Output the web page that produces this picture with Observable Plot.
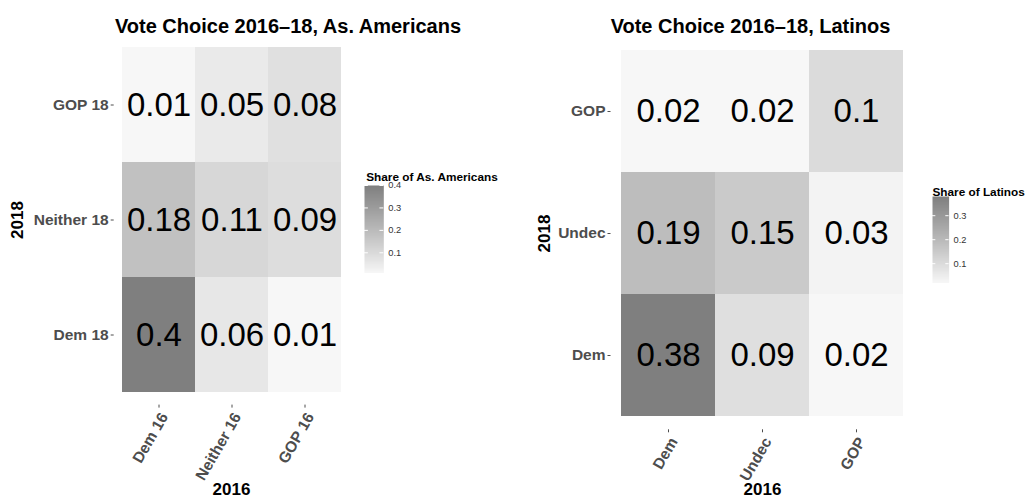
<!DOCTYPE html>
<html>
<head>
<meta charset="utf-8">
<script src="https://cdn.jsdelivr.net/npm/d3@7"></script>
<script src="https://cdn.jsdelivr.net/npm/@observablehq/plot@0.6"></script>
<style>
  body { margin: 0; background: #fff; }
  #chart { position: relative; width: 1025px; height: 503px; overflow: hidden; background: #fff; }
  #chart svg { position: absolute; }
</style>
</head>
<body>
<div id="chart"></div>
<script>
// Asian American respondents: 2018 vote (rows) by 2016 vote (columns)
const asCols16 = ["Dem 16", "Neither 16", "GOP 16"];
const asRows18 = ["GOP 18", "Neither 18", "Dem 18"];
const asGop18 = [0.01, 0.05, 0.08];
const asNeither18 = [0.18, 0.11, 0.09];
const asDem18 = [0.4, 0.06, 0.01];
const asLegendTicks = [0.1, 0.2, 0.3, 0.4];

// Latino respondents: 2018 vote (rows) by 2016 vote (columns)
const laCols16 = ["Dem", "Undec", "GOP"];
const laRows18 = ["GOP", "Undec", "Dem"];
const laGop18 = [0.02, 0.02, 0.1];
const laUndec18 = [0.19, 0.15, 0.03];
const laDem18 = [0.38, 0.09, 0.02];
const laLegendTicks = [0.1, 0.2, 0.3];

const FONT = "'Liberation Sans', Arial, Helvetica, sans-serif";
const LOW = "#f7f7f7";
const HIGH = "#7f7f7f";
const TICK_FONT = 15.5;

function tidy(cols, rows, rowValues) {
  const out = [];
  rows.forEach((r, i) => cols.forEach((c, j) => out.push({row: r, col: c, value: rowValues[i][j]})));
  return out;
}

function colorScale(data) {
  return {type: "linear", domain: d3.extent(data, d => d.value), range: [LOW, HIGH], interpolate: "lab"};
}

function heatmap(cfg) {
  const {data, cols, rows, title} = cfg;
  const svg = Plot.plot({
    width: cfg.width,
    height: 503,
    marginLeft: cfg.marginLeft,
    marginRight: cfg.marginRight,
    marginTop: cfg.marginTop,
    marginBottom: cfg.marginBottom,
    style: {fontFamily: FONT, background: "transparent", overflow: "visible"},
    x: {type: "band", domain: cols, paddingInner: 0, paddingOuter: 0.1},
    y: {type: "band", domain: rows, paddingInner: 0, paddingOuter: 0.1},
    color: colorScale(data),
    marks: [
      Plot.cell(data, {x: "col", y: "row", fill: "value", inset: 0, shapeRendering: "crispEdges"}),
      Plot.text(data, {x: "col", y: "row", text: d => String(d.value), fontSize: 33, fill: "black"}),
      Plot.axisY({label: null, tickSize: 3, tickPadding: 2.5, fontSize: TICK_FONT, fontWeight: "bold", color: "#4d4d4d"}),
      // bottom ticks; their rotated labels are drawn by the text mark below
      Plot.axisX({label: null, tickSize: 3, tickFormat: () => "", color: "#4d4d4d"}),
      Plot.text(cols, {x: d => d, frameAnchor: "bottom", dy: 6, rotate: -60, textAnchor: "end", lineAnchor: "top",
                       fontSize: TICK_FONT, fontWeight: "bold", fill: "#4d4d4d"}),
      Plot.text([title], {frameAnchor: "top-left", dx: cfg.titleDx, dy: cfg.titleDy, textAnchor: "middle", fontSize: 20, fontWeight: "bold", fill: "black"}),
      Plot.text(["2018"], {frameAnchor: "left", dx: cfg.yTitleDx, rotate: -90, textAnchor: "middle", fontSize: 17, fontWeight: "bold", fill: "black"}),
      Plot.text(["2016"], {frameAnchor: "bottom", dy: cfg.xTitleDy, textAnchor: "middle", fontSize: 17, fontWeight: "bold", fill: "black"})
    ]
  });
  svg.style.left = cfg.left + "px";
  svg.style.top = "0px";
  return svg;
}

function legend(cfg) {
  const {data, ticks, title} = cfg;
  const [lo, hi] = d3.extent(data, d => d.value);
  const barW = cfg.x1 - cfg.x0;
  const ml = 10, mt = 40, mb = 20, w = 180;
  const h = (cfg.y1 - cfg.y0) + mt + mb;
  const svg = Plot.plot({
    width: w,
    height: h,
    marginLeft: ml,
    marginRight: w - ml - barW,
    marginTop: mt,
    marginBottom: mb,
    style: {fontFamily: FONT, background: "transparent", overflow: "visible"},
    x: {domain: [0, 1], axis: null},
    y: {domain: [lo, hi], axis: null},
    color: colorScale(data),
    marks: [
      Plot.raster({x1: 0, x2: 1, y1: lo, y2: hi, width: 1, height: 200, fill: (x, y) => y}),
      Plot.ruleY(ticks, {x1: 0, x2: 0.2, stroke: "white", strokeWidth: 1}),
      Plot.ruleY(ticks, {x1: 0.8, x2: 1, stroke: "white", strokeWidth: 1}),
      Plot.axisY(ticks, {anchor: "right", label: null, tickSize: 0, tickPadding: 4.5, fontSize: 9.3, color: "#333", tickFormat: d => String(d)}),
      Plot.text([title], {frameAnchor: "top-left", dx: cfg.titleX - cfg.x0, dy: (cfg.titleBaseline - 0.32 * 11.8) - cfg.y0, textAnchor: "start", fontSize: 11.8, fontWeight: "bold", fill: "black"})
    ]
  });
  svg.style.left = (cfg.x0 - ml) + "px";
  svg.style.top = (cfg.y0 - mt) + "px";
  return svg;
}

const asData = tidy(asCols16, asRows18, [asGop18, asNeither18, asDem18]);
const laData = tidy(laCols16, laRows18, [laGop18, laUndec18, laDem18]);

const chart = document.getElementById("chart");

chart.appendChild(heatmap({
  data: asData, cols: asCols16, rows: asRows18,
  title: "Vote Choice 2016\u201318, As. Americans",
  left: 0, width: 512,
  marginLeft: 113.7, marginRight: 512 - 348.3, marginTop: 34.4, marginBottom: 503 - 404.6,
  titleDx: 287.5 - 113.7, titleDy: 18.6 - 34.4,
  yTitleDx: 17.5 - 113.7, xTitleDy: 494 - 404.6
}));

chart.appendChild(heatmap({
  data: laData, cols: laCols16, rows: laRows18,
  title: "Vote Choice 2016\u201318, Latinos",
  left: 512, width: 513,
  marginLeft: 98.5, marginRight: 513 - 401.5, marginTop: 36.7, marginBottom: 503 - 429.3,
  titleDx: 238 - 98.5, titleDy: 18.6 - 36.7,
  yTitleDx: (544 - 512) - 98.5, xTitleDy: 494 - 429.3
}));

chart.appendChild(legend({
  data: asData, ticks: asLegendTicks, title: "Share of As. Americans",
  x0: 364, x1: 383.3, y0: 185, y1: 272.5, titleX: 365.7, titleBaseline: 175.5
}));

chart.appendChild(legend({
  data: laData, ticks: laLegendTicks, title: "Share of Latinos",
  x0: 931.7, x1: 948.3, y0: 195.8, y1: 282.2, titleX: 931.7, titleBaseline: 191
}));
</script>
</body>
</html>
